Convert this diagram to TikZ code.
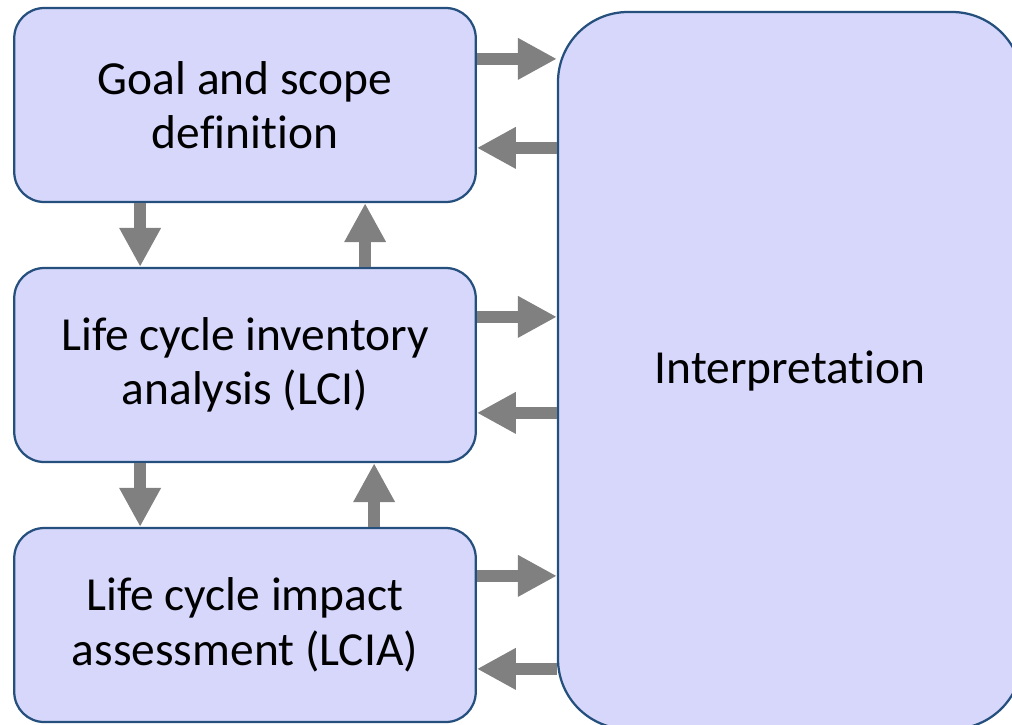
\documentclass[tikz,border=0pt]{standalone}
\usepackage{fontspec}
\setmainfont{Carlito}[Ligatures=NoCommon]
\usetikzlibrary{arrows.meta}

\definecolor{boxfill}{RGB}{214,215,251}
\definecolor{boxline}{RGB}{37,80,125}
\definecolor{arrowgray}{RGB}{128,128,128}

\tikzset{
  stage/.style={draw=boxline, fill=boxfill, line width=0.045cm, rounded corners=0.6cm,
    minimum width=9.23cm, minimum height=3.88cm, inner sep=0pt, align=center,
    font=\fontsize{27}{31}\selectfont},
  flow/.style={draw=arrowgray, line width=0.25cm,
    -{Triangle[width=0.78cm, length=0.78cm]}}
}

\begin{document}
\begin{tikzpicture}
      \clip (0,0) rectangle (20.24,-14.48);

      \node[stage] (goal) at (4.9,-2.1) {Goal and scope\\definition};
      \node[stage] (lci) at (4.9,-7.3) {Life cycle inventory\\analysis (LCI)};
      \node[stage] (lcia) at (4.9,-12.5) {Life cycle impact\\assessment (LCIA)};
      \node[stage, rounded corners=1.4cm, minimum width=9.28cm, minimum height=14.34cm] (interp) at (15.8,-7.41) {Interpretation};

      \draw[flow] ([xshift=2.54cm]goal.south west) -- ([xshift=2.54cm]lci.north west);
      \draw[flow] ([xshift=7.04cm]lci.north west) -- ([xshift=7.04cm]goal.south west);
      \draw[flow] ([xshift=2.54cm]lci.south west) -- ([xshift=2.54cm]lcia.north west);
      \draw[flow] ([xshift=7.22cm]lcia.north west) -- ([xshift=7.22cm]lci.south west);

      \draw[flow] ([yshift=-1.04cm]goal.north east) -- ([yshift=-1.04cm]goal.north east -| interp.west);
      \draw[flow] ([yshift=-2.82cm]goal.north east -| interp.west) -- ([yshift=-2.82cm]goal.north east);
      \draw[flow] ([yshift=-1.0cm]lci.north east) -- ([yshift=-1.0cm]lci.north east -| interp.west);
      \draw[flow] ([yshift=-2.92cm]lci.north east -| interp.west) -- ([yshift=-2.92cm]lci.north east);
      \draw[flow] ([yshift=-0.98cm]lcia.north east) -- ([yshift=-0.98cm]lcia.north east -| interp.west);
      \draw[flow] ([yshift=-2.84cm]lcia.north east -| interp.west) -- ([yshift=-2.84cm]lcia.north east);
\end{tikzpicture}
\end{document}
